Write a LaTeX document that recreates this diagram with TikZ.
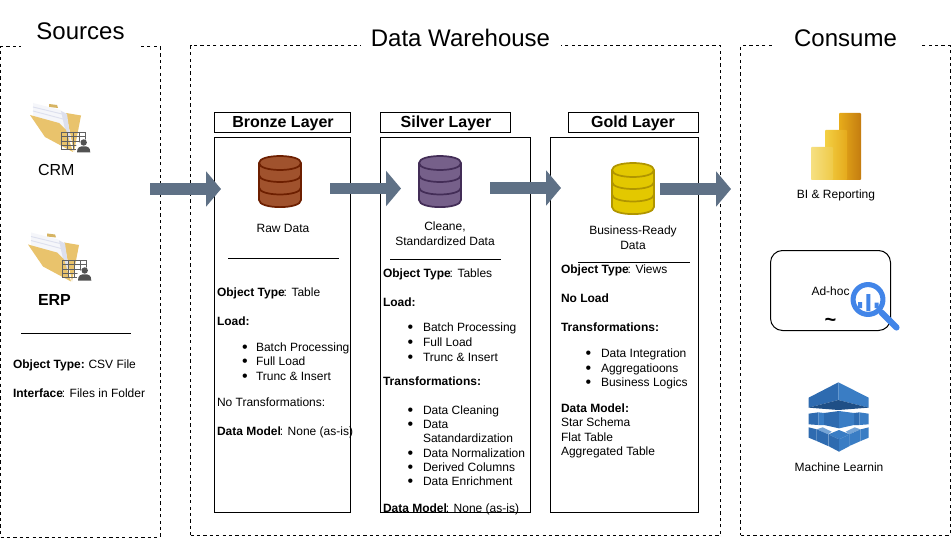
\documentclass[tikz,border=0pt]{standalone}
\usepackage{fontspec}
\setmainfont{Liberation Sans}
\usetikzlibrary{arrows.meta,fit}
\definecolor{arrowblue}{HTML}{5F7186}
\definecolor{bronzefill}{HTML}{A0522D}
\definecolor{bronzeline}{HTML}{6D1F00}
\definecolor{silverfill}{HTML}{76608A}
\definecolor{silverline}{HTML}{432D57}
\definecolor{goldfill}{HTML}{E3C800}
\definecolor{goldline}{HTML}{B09500}
\definecolor{lensblue}{HTML}{4285E8}
\definecolor{foldercol}{HTML}{E9C36C}
\definecolor{paperlav}{HTML}{DDE0EE}
\definecolor{cubelight}{HTML}{3A7DC4}
\definecolor{cubemid}{HTML}{2E6BB0}
\definecolor{cubedark}{HTML}{1F4F86}
\newcommand{\boldlead}[1]{\textbf{#1}\kern-.8pt}
\tikzset{
  every node/.style={inner sep=0pt,outer sep=0pt},
  dashbox/.style={draw=black,line width=.75pt,dash pattern=on 2.4pt off 2.4pt,inner sep=0pt},
  layerbox/.style={draw=black,line width=.75pt,inner sep=0pt},
  region/.style={fill=white,font=\fontsize{18}{20}\selectfont,minimum height=27pt},
  layertitle/.style={font=\fontsize{12}{14}\selectfont\bfseries,text height=9.5pt,text depth=2.5pt},
  body/.style={font=\fontsize{9}{11}\selectfont,text height=8pt,text depth=2pt},
  bodyleft/.style={body,anchor=west},
  bulletmark/.style={font=\fontsize{12}{14}\selectfont,text height=9.8pt,text depth=2pt},
  flow/.style={draw=arrowblue,line width=8.4pt,-{Triangle[length=11.2pt,width=26pt,fill=arrowblue]}},
  rulet/.style={draw=black,line width=.75pt},
}
\newcommand{\dbicon}[5]{%
  \path[fill=#3,draw=#4,line width=1.3pt]
    ({#1-21},{#2+7}) -- ({#1-21},{#2+44}) .. controls ({#1-21},{#2+53.5}) and ({#1+21},{#2+53.5}) .. ({#1+21},{#2+44})
    -- ({#1+21},{#2+7}) .. controls ({#1+21},{#2-2.3}) and ({#1-21},{#2-2.3}) .. ({#1-21},{#2+7}) -- cycle;
  \draw[draw=#4,line width=1.3pt]
    ({#1-21},{#2+7}) .. controls ({#1-21},{#2+16.3}) and ({#1+21},{#2+16.3}) .. ({#1+21},{#2+7})
    ({#1-21},{#2+19}) .. controls ({#1-21},{#2+28.3}) and ({#1+21},{#2+28.3}) .. ({#1+21},{#2+19})
    ({#1-21},{#2+31.5}) .. controls ({#1-21},{#2+40.8}) and ({#1+21},{#2+40.8}) .. ({#1+21},{#2+31.5});
  \coordinate (#5) at (#1,#2);
}
\newcommand{\folder}[2]{%
 \begin{scope}[shift={(#1,#2)}]
  \fill[foldercol!92!black] (49,104) -- (57,105) -- (58,108) -- (49,107) -- cycle;
  \fill[foldercol] (66,113) -- (81,115.5) -- (74,152) -- cycle;
  \fill[white!70!paperlav] (33,103) -- (60,110) -- (66,114) -- (70,142) -- (59,124) -- (33,117) -- cycle;
  \fill[paperlav] (61,111) -- (67,114) -- (71,142) -- (66,134) -- cycle;
  \draw[paperlav,line width=.7pt] (33,107) -- (62,114) (33,111) -- (63,119);
  \fill[foldercol] (30,115) -- (59,123) -- (66,130) -- (73,152) -- (45,137) -- cycle;
 \end{scope}
}
\newcommand{\gridperson}[2]{%
 \begin{scope}[shift={(#1,#2)}]
  \draw[black!62,line width=.6pt] (61,132) rectangle (85,149)
    (61,136.5) -- (85,136.5) (61,141) -- (85,141) (61,145) -- (85,145)
    (67,132) -- (67,149) (73,132) -- (73,149) (79,132) -- (79,149);
  \fill[white] (76,146) -- (76,153) -- (91,153) -- (91,146) -- (84,138) -- cycle;
  \fill[black!68] (83.7,142.5) circle[radius=2.4pt];
  \fill[black!68] (77,152.5) .. controls (77,147) and (80,146.3) .. (83.7,146.3) .. controls (87.4,146.3) and (90.3,147) .. (90.3,152.5) -- cycle;
 \end{scope}
}
\begin{document}
\begin{tikzpicture}[x=.75pt,y=-.75pt]
\useasboundingbox (0,0) rectangle (952,538);
\fill[white] (0,0) rectangle (952,538);

% regions
\node[dashbox,fit={(0.5,47)(160,537)}] (srcbox) {};
\node[dashbox,fit={(190.5,46)(720.5,535)}] (dwbox) {};
\node[dashbox,fit={(740.5,46)(950,535)}] (conbox) {};
\node[region,minimum width=89.5pt] (srctitle) at (80.5,31) {Sources};
\node[region,minimum width=150pt] (dwtitle) at (460.5,38) {Data Warehouse};
\node[region,minimum width=111pt] (contitle) at (845.5,38) {Consume};

% layer boxes
\node[layerbox,fit={(214.5,112.5)(350.5,132.5)}] (bronzehead) {};
\node[layerbox,fit={(214.5,137.5)(350.5,512.5)}] (bronzebody) {};
\node[layerbox,fit={(380.5,112.5)(510.5,132.5)}] (silverhead) {};
\node[layerbox,fit={(380.5,137.5)(530.5,512.5)}] (silverbody) {};
\node[layerbox,fit={(568.5,112.5)(698.5,132.5)}] (goldhead) {};
\node[layerbox,fit={(550.5,137.5)(698.5,512.5)}] (goldbody) {};
\node[layertitle] (bronzetitle) at (283,123) {Bronze Layer};
\node[layertitle] (silvertitle) at (446,123) {Silver Layer};
\node[layertitle] (goldtitle) at (633,123) {Gold Layer};

% cylinders
\dbicon{280}{156}{bronzefill}{bronzeline}{bronzedb}
\dbicon{440}{156}{silverfill}{silverline}{silverdb}
\dbicon{633}{163}{goldfill}{goldline}{golddb}

% flow arrows
\coordinate (a1s) at (150,189); \coordinate (a1e) at (221,189);
\coordinate (a2s) at (330,188.5); \coordinate (a2e) at (401,188.5);
\coordinate (a3s) at (490,188); \coordinate (a3e) at (561,188);
\coordinate (a4s) at (660,189); \coordinate (a4e) at (731,189);
\draw[flow] (a1s) -- (a1e);
\draw[flow] (a2s) -- (a2e);
\draw[flow] (a3s) -- (a3e);
\draw[flow] (a4s) -- (a4e);

% sources
\folder{0}{0}
\gridperson{0}{0}
\folder{-2}{129.5}
\gridperson{1}{128}
\node[anchor=west,font=\fontsize{12}{14}\selectfont] (crm) at (38,169.5) {CRM};
\node[anchor=west,font=\fontsize{12}{14}\selectfont\bfseries] (erp) at (38,299.5) {ERP};
\coordinate (r0a) at (21,333); \coordinate (r0b) at (131,333);
\draw[rulet] (r0a) -- (r0b);
\node[bodyleft] (s1) at (13,364) {\textbf{Object Type:}\kern-.5pt{} CSV File};
\node[bodyleft] (s2) at (13,393) {\boldlead{Interface}: Files in Folder};

% bronze text
\node[body] (b0) at (283,229) {Raw Data};
\coordinate (r1a) at (228,258.5); \coordinate (r1b) at (339,258.5);
\draw[rulet] (r1a) -- (r1b);
\node[bodyleft] (b1) at (217,292) {\boldlead{Object Type}: Table};
\node[bodyleft] (b2) at (217,321) {\textbf{Load:}};
\node[bulletmark] (bb1) at (245,347) {•}; \node[bodyleft] (b3) at (256,347) {Batch Processing};
\node[bulletmark] (bb2) at (245,361) {•}; \node[bodyleft] (b4) at (256,361) {Full Load};
\node[bulletmark] (bb3) at (245,376) {•}; \node[bodyleft] (b5) at (256,376) {Trunc \& Insert};
\node[bodyleft] (b6) at (217,402) {No Transformations:};
\node[bodyleft] (b7) at (217,431) {\boldlead{Data Model}: None (as-is)};

% silver text
\node[body] (c0) at (445,227) {Cleane,};
\node[body] (c0b) at (445,242) {Standardized Data};
\coordinate (r2a) at (390,259.5); \coordinate (r2b) at (501,259.5);
\draw[rulet] (r2a) -- (r2b);
\node[bodyleft] (c1) at (383,273) {\boldlead{Object Type}: Tables};
\node[bodyleft] (c2) at (383,302) {\textbf{Load:}};
\node[bulletmark] (cb1) at (410.5,327) {•}; \node[bodyleft] (c3) at (423,327) {Batch Processing};
\node[bulletmark] (cb2) at (410.5,342) {•}; \node[bodyleft] (c4) at (423,342) {Full Load};
\node[bulletmark] (cb3) at (410.5,357) {•}; \node[bodyleft] (c5) at (423,357) {Trunc \& Insert};
\node[bodyleft] (c6) at (383,381) {\textbf{Transformations:}};
\node[bulletmark] (cb4) at (410.5,410) {•}; \node[bodyleft] (c7) at (423,410) {Data Cleaning};
\node[bulletmark] (cb5) at (410.5,424) {•}; \node[bodyleft] (c8) at (423,424) {Data};
\node[bodyleft] (c9) at (423,438) {Satandardization};
\node[bulletmark] (cb6) at (410.5,453) {•}; \node[bodyleft] (c10) at (423,453) {Data Normalization};
\node[bulletmark] (cb7) at (410.5,467) {•}; \node[bodyleft] (c11) at (423,467) {Derived Columns};
\node[bulletmark] (cb8) at (410.5,481) {•}; \node[bodyleft] (c12) at (423,481) {Data Enrichment};
\node[bodyleft] (c13) at (383,508) {\boldlead{Data Model}: None (as-is)};

% gold text
\node[body] (g0) at (633,230) {Business-Ready};
\node[body] (g0b) at (633,245) {Data};
\coordinate (r3a) at (578,262) ; \coordinate (r3b) at (690,262);
\draw[rulet] (r3a) -- (r3b);
\node[bodyleft] (g1) at (561,269) {\boldlead{Object Type}: Views};
\node[bodyleft] (g2) at (561,298) {\textbf{No Load}};
\node[bodyleft] (g3) at (561,327) {\textbf{Transformations:}};
\node[bulletmark] (gb1) at (588.3,353) {•}; \node[bodyleft] (g4) at (601,353) {Data Integration};
\node[bulletmark] (gb2) at (588.3,368) {•}; \node[bodyleft] (g5) at (601,368) {Aggregatioons};
\node[bulletmark] (gb3) at (588.3,382) {•}; \node[bodyleft] (g6) at (601,382) {Business Logics};
\node[bodyleft] (g7) at (561,408) {\textbf{Data Model:}};
\node[bodyleft] (g8) at (561,422) {Star Schema};
\node[bodyleft] (g9) at (561,437) {Flat Table};
\node[bodyleft] (g10) at (561,451) {Aggregated Table};

% power bi icon
\shade[rounded corners=.6pt,left color={rgb,255:red,231;green,172;blue,26},right color={rgb,255:red,196;green,124;blue,16}] (839,113) rectangle (861,180);
\shade[rounded corners=.6pt,left color={rgb,255:red,243;green,208;blue,68},right color={rgb,255:red,229;green,170;blue,28}] (825,130) rectangle (847,180);
\shade[rounded corners=.6pt,left color={rgb,255:red,246;green,224;blue,130},right color={rgb,255:red,239;green,202;blue,72}] (811,147) rectangle (833,180);
\node[body] (bi) at (836,195) {BI \& Reporting};

% ad-hoc
\node[draw=black,line width=.75pt,rounded corners=9pt,fit={(770.5,250.5)(890.5,330.5)}] (adhocbox) {};
\node[body] (adhoc) at (830.5,291) {Ad-hoc};
\node[font=\fontsize{15}{17}\selectfont\bfseries] (tilde) at (830.5,322) {\textasciitilde};
\draw[lensblue,line width=4.6pt,line cap=round] (881.5,312.5) -- (896.5,327.5);
\draw[lensblue,line width=3.8pt,fill=white] (868,299.5) circle[radius=11.2pt];
\fill[lensblue] (858,302) rectangle (862,308) (866.3,294) rectangle (870.3,311) (874.5,302.5) rectangle (878.5,308);

% machine learning cube
\begin{scope}[shift={(790,375)},x=.25pt,y=-.25pt]
 \fill[cubemid] (145,22) -- (56,68) -- (56,98) -- (145,75) -- cycle;
 \fill[cubelight] (145,22) -- (236,68) -- (236,98) -- (145,75) -- cycle;
 \fill[cubedark] (56,98) -- (145,75) -- (236,98) -- (145,105) -- cycle;
 \fill[cubemid] (56,116) -- (85,112) -- (85,150) -- (56,148) -- cycle;
 \fill[cubelight] (85,112) -- (102,114) -- (102,150) -- (85,150) -- cycle;
 \fill[cubemid] (192,114) -- (208,112) -- (208,150) -- (192,150) -- cycle;
 \fill[cubelight] (208,112) -- (236,116) -- (236,148) -- (208,150) -- cycle;
 \fill[cubemid] (102,114) -- (147,108) -- (147,160) -- (102,150) -- cycle;
 \fill[cubelight] (147,108) -- (192,114) -- (192,150) -- (147,160) -- cycle;
 \fill[cubemid] (56,157) -- (80,163) -- (80,198) -- (56,188) -- cycle;
 \fill[cubelight] (236,157) -- (212,163) -- (212,198) -- (236,188) -- cycle;
 \fill[cubelight!70!white] (80,163) -- (98,157) -- (125,170) -- (114,178) -- cycle;
 \fill[cubelight!70!white] (167,170) -- (194,157) -- (212,163) -- (178,178) -- cycle;
 \fill[cubemid] (80,163) -- (80,198) -- (114,213) -- (114,178) -- cycle;
 \fill[cubelight] (212,163) -- (212,198) -- (178,213) -- (178,178) -- cycle;
 \fill[cubelight] (147,165) -- (115,178) -- (147,193) -- (179,178) -- cycle;
 \fill[cubemid] (115,178) -- (115,213) -- (147,230) -- (147,193) -- cycle;
 \fill[cubelight] (179,178) -- (179,213) -- (147,230) -- (147,193) -- cycle;
\end{scope}
\node[body] (ml) at (839,467) {Machine Learnin};
\end{tikzpicture}
\end{document}
